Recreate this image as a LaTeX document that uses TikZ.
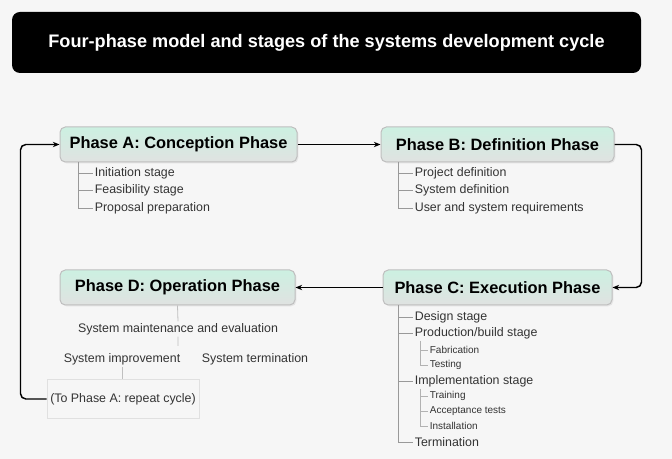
\documentclass[tikz,border=0pt]{standalone}
\usepackage{fontspec}
\setmainfont{Liberation Sans}
\usetikzlibrary{arrows.meta,shadows}
\definecolor{mint}{RGB}{204,240,225}
\definecolor{boxgray}{RGB}{224,226,225}
\definecolor{pagebg}{RGB}{246,246,246}
\tikzset{every picture/.style={line width=0.75pt}}

\begin{document}
\begin{tikzpicture}[x=0.75pt,y=0.75pt,yscale=-1,xscale=1,
  phase/.style={draw=black!25, rounded corners=4pt, top color=mint, bottom color=boxgray,
    minimum height=26.25pt, inner sep=0pt, font=\bfseries\fontsize{12.3}{14}\selectfont,
    drop shadow={opacity=0.15, shadow xshift=1pt, shadow yshift=-1pt}},
  item/.style={anchor=west, inner sep=1pt, text=black!80, font=\fontsize{9.3}{11}\selectfont},
  subitem/.style={item, font=\fontsize{7.5}{9}\selectfont},
  tree/.style={draw=black!40, line width=0.6pt},
  flow/.style={draw=black, line width=1.1pt, rounded corners=4pt, -{Stealth[length=5pt,width=4pt]}}]
		%set diagram to the size of the reference
		\fill[pagebg] (0,0) rectangle (672,459);
		\useasboundingbox (0,0) rectangle (672,459);
		
		% Title
		\node [fill=black, rounded corners=6pt, minimum width=471.75pt, minimum height=45.75pt, text=white, font=\bfseries\fontsize{13.6}{16}\selectfont] (title) at (326.5,42.5) {Four-phase model and stages of the systems development cycle};
		
		% Phase boxes
		\node [phase, minimum width=177.75pt] (A) at (178.5,144.5) {Phase A: Conception Phase};
		\node [phase, minimum width=174.75pt] (B) at (497.5,144.5) {Phase B: Definition Phase};
		\node [phase, minimum width=171.75pt] (C) at (497.5,287.5) {Phase C: Execution Phase};
		\node [phase, minimum width=176.25pt] (D) at (177.5,287.5) {Phase D: Operation Phase};
		
		% Phase A stages
		\coordinate (aroot) at (78,162);
		\node [item] (a1) at (93,173) {Initiation stage};
		\node [item] (a2) at (93,190) {Feasibility stage};
		\node [item] (a3) at (93,208) {Proposal preparation};
		\draw [tree] (aroot) |- (a1.west) (aroot) |- (a2.west) (aroot) |- (a3.west);
		
		% Phase B stages
		\coordinate (broot) at (398,162);
		\node [item] (b1) at (413,173) {Project definition};
		\node [item] (b2) at (413,190) {System definition};
		\node [item] (b3) at (413,208) {User and system requirements};
		\draw [tree] (broot) |- (b1.west) (broot) |- (b2.west) (broot) |- (b3.west);
		
		% Phase C stages
		\coordinate (croot) at (398,305);
		\node [item] (c1) at (413,317) {Design stage};
		\node [item] (c2) at (413,333) {Production/build stage};
		\node [subitem] (c3) at (428,350) {Fabrication};
		\node [subitem] (c4) at (428,365) {Testing};
		\node [item] (c5) at (413,381) {Implementation stage};
		\node [subitem] (c6) at (428,396) {Training};
		\node [subitem] (c7) at (428,411) {Acceptance tests};
		\node [subitem] (c8) at (428,426) {Installation};
		\node [item] (c9) at (413,442) {Termination};
		\draw [tree] (croot) |- (c1.west) (croot) |- (c2.west) (croot) |- (c5.west) (croot) |- (c9.west);
		\coordinate (cbuild) at (420,341);
		\coordinate (cimpl) at (420,389);
		\draw [tree, draw=black!30] (cbuild) |- (c3.west) (cbuild) |- (c4.west);
		\draw [tree, draw=black!30] (cimpl) |- (c6.west) (cimpl) |- (c7.west) (cimpl) |- (c8.west);
		
		% Phase D stages
		\node [item, anchor=center] (d1) at (178,329) {System maintenance and evaluation};
		\node [item, anchor=center] (d2) at (122,359) {System improvement};
		\node [item, anchor=center] (d3) at (255,359) {System termination};
		\node [item, anchor=center, draw=black!12, minimum width=114pt, minimum height=29pt] (d4) at (123,399) {(To Phase A: repeat cycle)};
		\coordinate (dsplit) at (178,346);
		\draw [tree, draw=black!25] (D.south) -- (d1.north) (d1.south) -- (dsplit);
		\draw [tree, draw=black!25] (d2.south) -- (d2.south |- d4.north);
		
		% Cycle
		\draw [flow] (A) -- (B);
		\draw [flow] (B.east) -- ++(27,0) |- (C.east);
		\draw [flow] (C) -- (D);
		\draw [flow] (d4.west) -- ++(-26,0) |- (A.west);
		
\end{tikzpicture}
\end{document}
